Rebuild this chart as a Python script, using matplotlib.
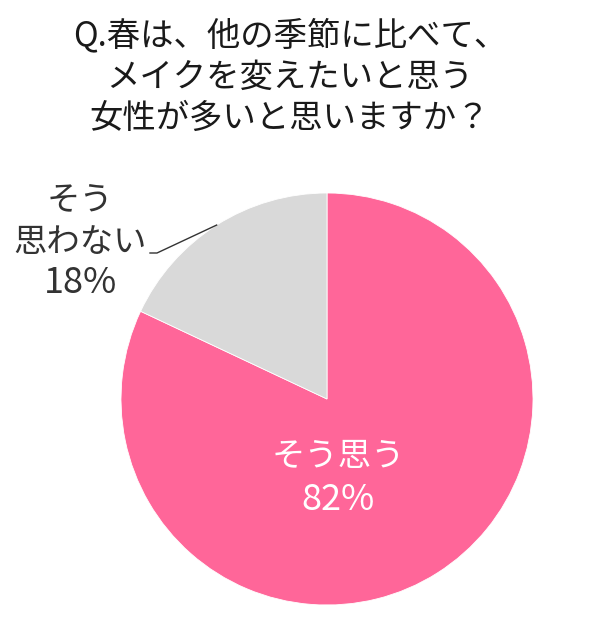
import numpy as np
import matplotlib
matplotlib.use('Agg')
import matplotlib.pyplot as plt

plt.rcParams['font.family'] = ['Noto Sans CJK JP', 'DejaVu Sans']

# survey result
labels = ['そう思う', 'そう\n思わない']
values = [82, 18]
colors = ['#FF6699', '#D9D9D9']
title_lines = ['Q.春は、他の季節に比べて、',
               'メイクを変えたいと思う',
               '女性が多いと思いますか？']

W, H = 600, 624
fig = plt.figure(figsize=(W / 100, H / 100), dpi=100)

# pie axes: center ~(327, 399) px, radius ~206 px
cx, cy, r = 327, 399, 206
ax = fig.add_axes([(cx - r) / W, (H - cy - r) / H, 2 * r / W, 2 * r / H])
wedges, _ = ax.pie(values, colors=colors, startangle=90, counterclock=False,
                   radius=1.0, wedgeprops=dict(edgecolor='white', linewidth=0.6))
ax.set_xlim(-1, 1)
ax.set_ylim(-1, 1)
ax.set_aspect('equal')
ax.axis('off')

# title
for i, line in enumerate(title_lines):
    fig.text(290 / W, 1 - (36 + 41 * i) / H, line, ha='center', va='center',
             fontsize=24, color='#1a1a1a')

# inside label for the big slice
ax.text(0.053, -0.28, labels[0], ha='center', va='center', fontsize=24, color='white')
ax.text(0.053, -0.49, '%d%%' % values[0], ha='center', va='center', fontsize=26, color='white')

# outside label for the small slice
lx = (80 - cx) / r
parts = labels[1].split('\n')
for j, txt in enumerate(parts):
    ax.text(lx, (cy - (200 + 42 * j)) / r, txt, ha='center', va='center',
            fontsize=24, color='#333333', clip_on=False)
ax.text(lx, (cy - 283) / r, '%d%%' % values[1], ha='center', va='center',
        fontsize=26, color='#333333', clip_on=False)

# leader line from mid of gray wedge to the label
w = wedges[1]
mid = np.deg2rad((w.theta1 + w.theta2) / 2)
px, py = 1.0 * np.cos(mid), 1.0 * np.sin(mid)
ly = (cy - 253) / r
ax.plot([(150 - cx) / r, (157 - cx) / r, px], [ly, ly, py],
        color='#333333', linewidth=1.0, clip_on=False)

fig.savefig('out.png', dpi=100, facecolor='white')
